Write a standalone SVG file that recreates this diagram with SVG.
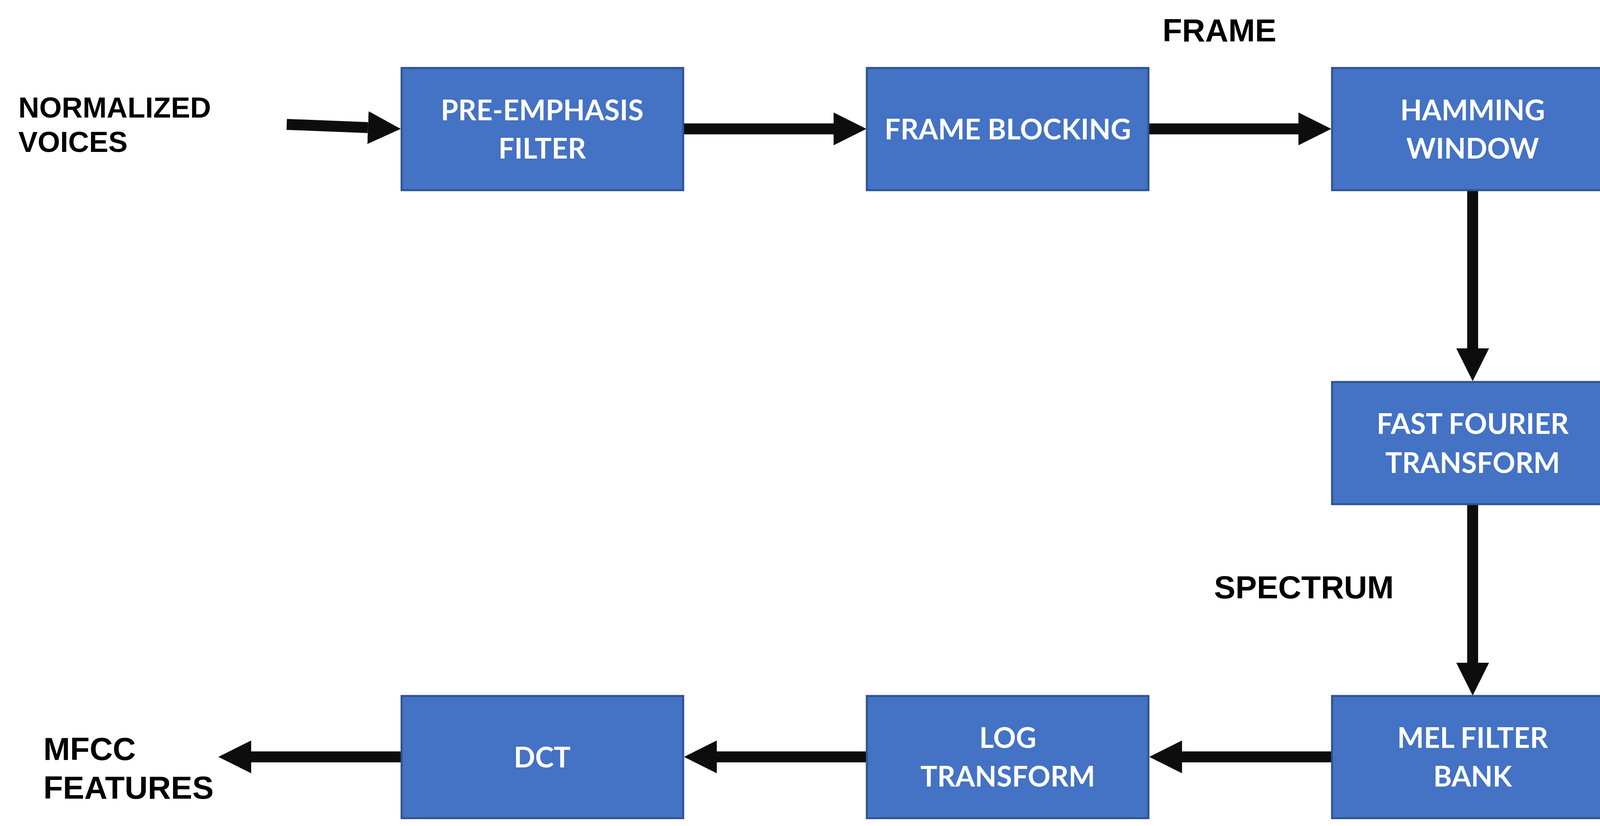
<svg xmlns="http://www.w3.org/2000/svg" width="4134" height="2115" viewBox="0 0 4134 2115">
<style>
.box{fill:#4472C4;stroke:#2F528F;stroke-width:5}
.bt{font-family:Lato,"Open Sans","Liberation Sans",sans-serif;font-weight:bold;font-size:72px;fill:#FFFFFF;text-anchor:middle}
.lb{font-family:"Liberation Sans",Arial,sans-serif;font-weight:bold;font-size:82px;fill:#000000}
.ar{stroke:#0D0D0D;stroke-width:28;fill:none;marker-end:url(#head)}
</style>
<defs>
<marker id="head" markerUnits="userSpaceOnUse" viewBox="0 0 84 84" markerWidth="84" markerHeight="84" refX="0" refY="42" orient="auto">
<path d="M0,0 L84,42 L0,84 Z" fill="#0D0D0D"/>
</marker>
</defs>
<rect width="4134" height="2115" fill="#FFFFFF"/>
<g id="connectors">
<path class="ar" d="M734,318.5 L942,326.7"/>
<path class="ar" d="M1751,330 L2134,330"/>
<path class="ar" d="M2942,330 L3324,330"/>
<path class="ar" d="M3770,489 L3770,892"/>
<path class="ar" d="M3770,1293 L3770,1697"/>
<path class="ar" d="M3408,1938 L3026,1938"/>
<path class="ar" d="M2217,1938 L1835,1938"/>
<path class="ar" d="M1026,1938 L643,1938"/>
</g>
<g id="n-pre-emphasis">
<rect class="box" x="1028" y="174" width="721" height="313"/>
<text class="bt" x="1388" y="308">PRE-EMPHASIS</text>
<text class="bt" x="1388" y="406">FILTER</text>
</g>
<g id="n-frame-blocking">
<rect class="box" x="2219" y="174" width="721" height="313"/>
<text class="bt" x="2580" y="357">FRAME BLOCKING</text>
</g>
<g id="n-hamming">
<rect class="box" x="3410" y="174" width="721" height="313"/>
<text class="bt" x="3770" y="308">HAMMING</text>
<text class="bt" x="3770" y="406">WINDOW</text>
</g>
<g id="n-fft">
<rect class="box" x="3410" y="978" width="721" height="313"/>
<text class="bt" x="3770" y="1111">FAST FOURIER</text>
<text class="bt" x="3770" y="1211">TRANSFORM</text>
</g>
<g id="n-mel">
<rect class="box" x="3410" y="1782" width="721" height="313"/>
<text class="bt" x="3770" y="1915">MEL FILTER</text>
<text class="bt" x="3770" y="2014">BANK</text>
</g>
<g id="n-log">
<rect class="box" x="2219" y="1782" width="721" height="313"/>
<text class="bt" x="2580" y="1915">LOG</text>
<text class="bt" x="2580" y="2014">TRANSFORM</text>
</g>
<g id="n-dct">
<rect class="box" x="1028" y="1782" width="721" height="313"/>
<text class="bt" x="1388" y="1965">DCT</text>
</g>
<g id="labels">
<text class="lb" x="47" y="301" style="font-size:74px">NORMALIZED</text>
<text class="lb" x="47" y="389" style="font-size:74px">VOICES</text>
<text class="lb" x="2976" y="106">FRAME</text>
<text class="lb" x="3108" y="1532">SPECTRUM</text>
<text class="lb" x="111" y="1946">MFCC</text>
<text class="lb" x="111" y="2045">FEATURES</text>
</g>
</svg>
